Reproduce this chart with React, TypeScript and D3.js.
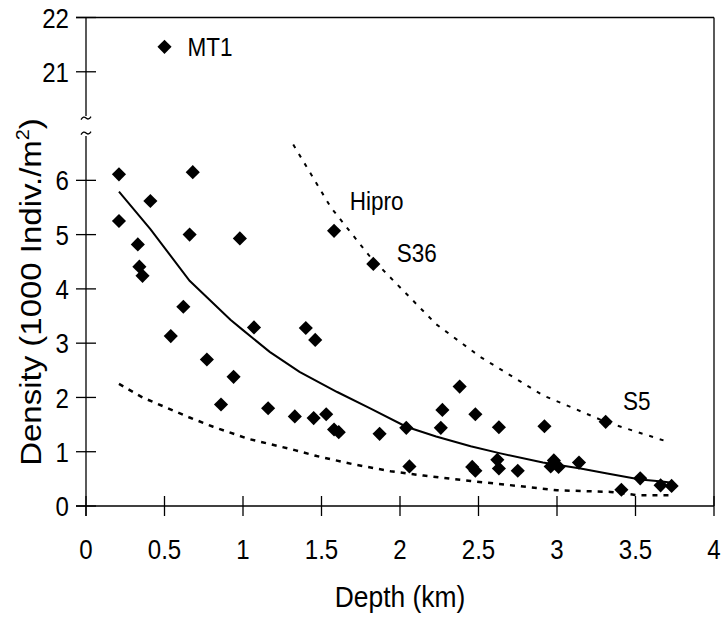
import * as d3 from "d3";

// depth (km), density (1000 ind/m2)
const depths = [0.21, 0.68, 0.41, 0.21, 0.66, 0.98, 0.33, 0.34, 0.36, 0.62, 1.07, 0.54, 0.77, 0.94, 0.86, 1.16, 1.33, 1.40, 1.46, 1.45, 1.53, 1.58, 1.61, 1.58, 1.83, 1.87, 2.04, 2.06, 2.38, 2.27, 2.48, 2.26, 2.63, 2.46, 2.48, 2.62, 2.63, 2.75, 2.92, 3.31, 2.98, 2.96, 3.01, 3.14, 3.41, 3.53, 3.66, 3.73];
const densities = [6.11, 6.15, 5.62, 5.25, 5.0, 4.93, 4.82, 4.41, 4.24, 3.67, 3.29, 3.13, 2.70, 2.38, 1.87, 1.80, 1.65, 3.28, 3.06, 1.62, 1.69, 1.41, 1.36, 5.07, 4.46, 1.33, 1.44, 0.73, 2.20, 1.77, 1.69, 1.44, 1.45, 0.72, 0.65, 0.85, 0.69, 0.65, 1.47, 1.55, 0.84, 0.73, 0.72, 0.80, 0.30, 0.51, 0.38, 0.37];

const outlier = { name: "MT1", depth: 0.5, density: 21.46 };

// fitted curve (solid) and the two bounds (dotted)
const fitX = [0.21, 0.41, 0.66, 0.92, 1.0, 1.17, 1.36, 1.6, 1.81, 2.04, 2.23, 2.45, 2.64, 2.91, 3.15, 3.32, 3.53, 3.67, 3.73];
const fitY = [5.79, 5.1, 4.15, 3.43, 3.24, 2.84, 2.47, 2.1, 1.8, 1.46, 1.28, 1.1, 0.97, 0.8, 0.69, 0.6, 0.49, 0.45, 0.43];
const upperX = [1.32, 1.56, 1.81, 2.23, 2.51, 2.91, 3.31, 3.72];
const upperY = [6.66, 5.5, 4.59, 3.35, 2.75, 2.04, 1.55, 1.17];
const lowerX = [0.21, 0.36, 0.66, 0.81, 1.03, 1.33, 1.47, 1.7, 1.94, 2.15, 2.45, 2.62, 3.0, 3.34, 3.51, 3.72];
const lowerY = [2.25, 2.0, 1.63, 1.46, 1.24, 1.03, 0.92, 0.77, 0.64, 0.56, 0.46, 0.41, 0.29, 0.26, 0.2, 0.2];

const xTicks = [0, 0.5, 1, 1.5, 2, 2.5, 3, 3.5, 4];
const yTicks = [0, 1, 2, 3, 4, 5, 6, 21, 22];

const labels = [
  { text: "Hipro", depth: 1.68, density: 5.45 },
  { text: "S36", depth: 1.98, density: 4.5 },
  { text: "S5", depth: 3.42, density: 1.77 },
];

const FONT = "'Liberation Sans', Arial, Helvetica, sans-serif";

// squeeze text horizontally around its anchor, like the original figure
const squeeze = (cx: number, k: number) => `translate(${cx},0) scale(${k},1) translate(${-cx},0)`;

export default function App() {
  const left = 86, right = 714, top = 17.5, bottom = 506;
  const x = d3.scaleLinear().domain([0, 4]).range([left, right]);
  // broken axis: 0..7 then 20..22 squeezed together
  const yLin = d3.scaleLinear().domain([0, 9]).range([bottom, top]);
  const y = (v: number) => yLin(v >= 20 ? v - 13 : v);
  const breakY = y(7);

  const line = d3
    .line<[number, number]>()
    .x((d) => x(d[0]))
    .y((d) => y(d[1]));

  const fit = line(fitX.map((d, i) => [d, fitY[i]]));
  const upper = line(upperX.map((d, i) => [d, upperY[i]]));
  const lower = line(lowerX.map((d, i) => [d, lowerY[i]]));

  const diamond = d3.symbol(d3.symbolSquare, 100)();

  const tilde = (cy: number) =>
    `M${left - 5},${cy + 1.5} q2.5,-4 5,-1.5 q2.5,2.5 5,-1.5`;

  return (
    <svg width={726} height={621} style={{ display: "block", position: "absolute", left: 0, top: 0 }}>
      <rect width={726} height={621} fill="#fff" />
      <g stroke="#000" strokeWidth={1.3} fill="none">
        <line x1={left - 10} x2={right} y1={top} y2={top} />
        <line x1={right} x2={right} y1={top} y2={bottom} />
        <line x1={left - 10} x2={right} y1={bottom} y2={bottom} />
        <line x1={left} x2={left} y1={top} y2={breakY - 10} />
        <line x1={left} x2={left} y1={breakY + 10} y2={bottom + 10} />
        <path d={tilde(breakY - 8)} />
        <path d={tilde(breakY + 7)} />
        {yTicks.map((t) => (
          <line key={t} x1={left - 10} x2={left + 10} y1={y(t)} y2={y(t)} />
        ))}
        {xTicks.map((t) => (
          <line key={t} x1={x(t)} x2={x(t)} y1={bottom - 10} y2={bottom + 10} />
        ))}
      </g>
      <g fontFamily={FONT} fontSize={28} fill="#000">
        {yTicks.map((t) => (
          <text key={t} x={69} y={y(t)} dy="0.36em" textAnchor="end" transform={squeeze(69, 0.86)}>
            {t}
          </text>
        ))}
        {xTicks.map((t) => (
          <text key={t} x={x(t)} y={559} textAnchor="middle" transform={squeeze(x(t), 0.86)}>
            {t}
          </text>
        ))}
        <text x={400} y={607} fontSize={30} textAnchor="middle" transform={squeeze(400, 0.88)}>
          Depth (km)
        </text>
        <text transform="translate(41,292) rotate(-90) scale(1.1,1)" fontSize={30} textAnchor="middle">
          Density (1000 Indiv./m<tspan dy={-12} fontSize={18}>2</tspan>
          <tspan dy={12}>)</tspan>
        </text>
      </g>
      <path d={upper ?? ""} fill="none" stroke="#000" strokeWidth={2} strokeDasharray="4,7" />
      <path d={lower ?? ""} fill="none" stroke="#000" strokeWidth={2.5} strokeDasharray="5,6" />
      <path d={fit ?? ""} fill="none" stroke="#000" strokeWidth={2} />
      <g fill="#000">
        {depths.map((d, i) => (
          <path key={i} d={diamond ?? ""} transform={`translate(${x(d)},${y(densities[i])}) rotate(45)`} />
        ))}
        <path d={diamond ?? ""} transform={`translate(${x(outlier.depth)},${y(outlier.density)}) rotate(45)`} />
      </g>
      <g fontFamily={FONT} fontSize={25} fill="#000">
        <text x={x(outlier.depth) + 23} y={y(outlier.density) + 9} transform={squeeze(x(outlier.depth) + 23, 0.9)}>
          {outlier.name}
        </text>
        {labels.map((l) => (
          <text key={l.text} x={x(l.depth)} y={y(l.density)} transform={squeeze(x(l.depth), 0.9)}>
            {l.text}
          </text>
        ))}
      </g>
    </svg>
  );
}
